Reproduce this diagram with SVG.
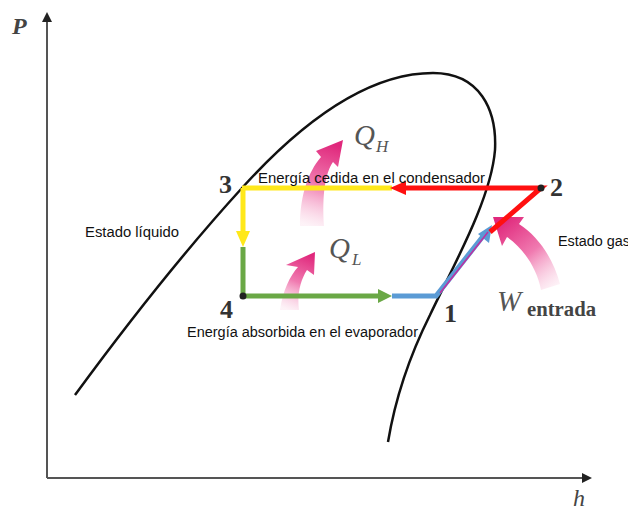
<svg xmlns="http://www.w3.org/2000/svg" width="628" height="510" viewBox="0 0 628 510">
<style>
.ax{stroke:#555;stroke-width:2;fill:none}
.dome{stroke:#111;stroke-width:2.5;fill:none}
.lbl{font-family:"Liberation Sans",Arial,sans-serif;font-size:14px;fill:#111}
.num{font-family:"Liberation Serif","Times New Roman",serif;font-weight:bold;font-size:26px;fill:#333}
.q{font-family:"Liberation Serif","Times New Roman",serif;font-style:italic;font-size:29px;fill:#555}
.sub{font-family:"Liberation Serif","Times New Roman",serif;font-style:italic;font-size:17px;fill:#555}
.path{fill:none;stroke-width:5;stroke-linecap:butt}
</style>
<defs>
<marker id="ah" markerWidth="10" markerHeight="10" refX="8" refY="5" orient="auto" markerUnits="userSpaceOnUse"><path d="M0,0 L10,5 L0,10 z" fill="#222"/></marker>
<linearGradient id="gh" gradientUnits="userSpaceOnUse" x1="310" y1="226" x2="335" y2="145"><stop offset="0" stop-color="#fbe0ec" stop-opacity="0.4"/><stop offset="0.5" stop-color="#f07ab0"/><stop offset="1" stop-color="#e0287c"/></linearGradient>
<linearGradient id="gl" gradientUnits="userSpaceOnUse" x1="288" y1="310" x2="310" y2="255"><stop offset="0" stop-color="#fbe0ec" stop-opacity="0.4"/><stop offset="0.5" stop-color="#f07ab0"/><stop offset="1" stop-color="#e0287c"/></linearGradient>
<linearGradient id="gw" gradientUnits="userSpaceOnUse" x1="552" y1="290" x2="500" y2="222"><stop offset="0" stop-color="#fbe0ec" stop-opacity="0.4"/><stop offset="0.5" stop-color="#f07ab0"/><stop offset="1" stop-color="#e0287c"/></linearGradient>
</defs>
<rect width="628" height="510" fill="#fff"/>
<g id="axes">
<line class="ax" x1="47" y1="478" x2="47" y2="14" marker-end="url(#ah)"/>
<line class="ax" x1="47" y1="478" x2="590" y2="478" marker-end="url(#ah)"/>
<text x="12" y="34" font-family="Liberation Serif,serif" font-style="italic" font-weight="bold" font-size="24" fill="#444">P</text>
<text x="573" y="506" font-family="Liberation Serif,serif" font-style="italic" font-size="24" fill="#444">h</text>
</g>
<g id="dome">
<path class="dome" d="M75,395 C130,320 190,245 242,188 C290,135 360,73 433,73 C480,73 497,110 495,150 C491,200 452,268 430,315 C410,355 395,400 388,442"/>
</g>
<g id="heat-arrows">
<path d="M300,226 C300,196 308,172 321,157 L316,151 L343,140 L338,167 L333,162 C325,173 322,196 324,226 z" fill="url(#gh)"/>
<path d="M280,310 C283,290 290,276 298,267 L286,265 L315,252 L314,275 L307,270 C300,281 297,295 299,310 z" fill="url(#gl)"/>
<path d="M493,217 L524,217 L519,224 C538,236 553,258 560,284 L541,290 C537,268 523,248 507,237 L502,246 z" fill="url(#gw)"/>
</g>
<g id="connectors">
<path class="path" stroke="#ffe81a" d="M242,188 H392"/>
<path class="path" stroke="#ffe81a" d="M243,188 V235"/>
<path d="M236,231 L250,231 L243,247 z" fill="#ffe81a"/>
<path class="path" stroke="#6aa846" d="M243,247 V296 H380"/>
<path d="M378,289 L392,296 L378,303 z" fill="#6aa846"/>
<path class="path" stroke="#5b9bd5" d="M392,296 H436 L484,235"/>
<path d="M492,225 L489,243 L478,234 z" fill="#5b9bd5"/>
<path d="M440,293 L488,232" stroke="#c02ea0" stroke-width="1.5" fill="none"/>
<path class="path" stroke="#ff1010" d="M490,232 L541,188 H405"/>
<path d="M406,181 L390,188 L406,195 z" fill="#ff1010"/>
<circle cx="541" cy="188" r="3.5" fill="#222"/>
<circle cx="243" cy="296" r="3.5" fill="#222"/>
</g>
<g id="node-3"><text class="num" x="219" y="193">3</text></g>
<g id="node-2"><text class="num" x="550" y="196">2</text></g>
<g id="node-4"><text class="num" x="220" y="318">4</text></g>
<g id="node-1"><text class="num" x="444" y="322">1</text></g>
<g id="qh"><text class="q" x="354" y="145">Q</text><text class="sub" x="376" y="152">H</text></g>
<g id="ql"><text class="q" x="329" y="258">Q</text><text class="sub" x="352" y="265">L</text></g>
<g id="w"><text class="q" x="497" y="311" font-size="31">W</text><text x="527" y="316" font-family="Liberation Serif,serif" font-weight="bold" font-size="20" fill="#444" textLength="69" lengthAdjust="spacingAndGlyphs">entrada</text></g>
<g id="labels">
<text class="lbl" x="258" y="183" textLength="227" lengthAdjust="spacingAndGlyphs">Energía cedida en el condensador</text>
<text class="lbl" x="85" y="237" textLength="94" lengthAdjust="spacingAndGlyphs">Estado líquido</text>
<text class="lbl" x="558" y="246" textLength="72" lengthAdjust="spacingAndGlyphs">Estado gas</text>
<text class="lbl" x="187" y="337" textLength="231" lengthAdjust="spacingAndGlyphs">Energía absorbida en el evaporador</text>
</g>
</svg>
